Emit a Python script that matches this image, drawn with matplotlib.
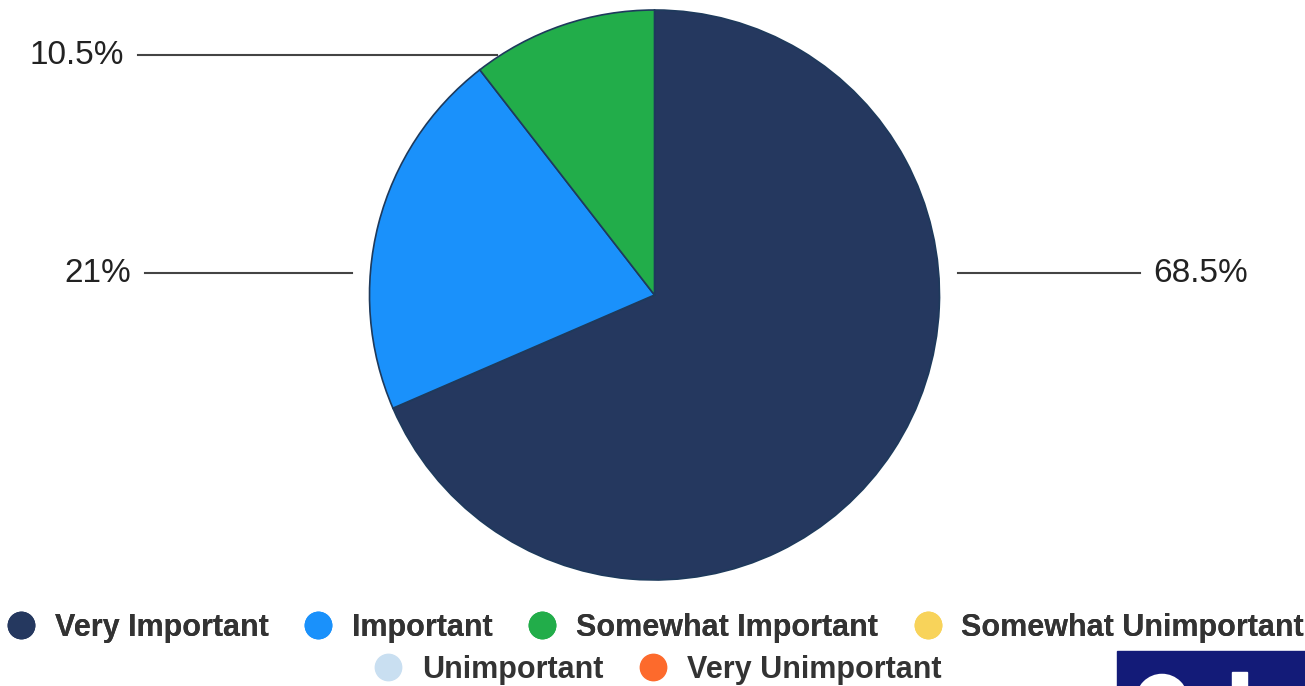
import matplotlib
matplotlib.use('Agg')
import matplotlib.pyplot as plt
from matplotlib.lines import Line2D
from matplotlib.patches import Rectangle, Circle

# datos del gráfico
categorias = ['Very Important', 'Important', 'Somewhat Important',
              'Somewhat Unimportant', 'Unimportant', 'Very Unimportant']
valores = [68.5, 21, 10.5, 0, 0, 0]
cores = ['#25385f', '#1a91fb', '#22ad4a', '#f8d35a', '#c9dff1', '#fd6a2c']

W, H = 1305, 686
plt.rcParams['font.family'] = ['Liberation Sans', 'DejaVu Sans']

fig = plt.figure(figsize=(W / 100, H / 100), dpi=100)
ax = fig.add_axes([0, 0, 1, 1])


def py(y):
    # pixel (top-down) -> data (bottom-up)
    return H - y


# pizza: só as fatias com valor
idx = [i for i, v in enumerate(valores) if v > 0]
ax.pie([valores[i] for i in idx], colors=[cores[i] for i in idx],
       startangle=90, counterclock=False,
       center=(654.5, py(295)), radius=285,
       wedgeprops=dict(edgecolor='#1e3a5c', linewidth=1.2))
ax.set_xlim(0, W)
ax.set_ylim(0, H)
ax.set_aspect('equal')
ax.axis('off')

# rótulos com linha guia (posições de layout)
guias = [  # (x_linha_ini, x_linha_fim, y, lado)
    (958, 1140, 273, 'right'),
    (352, 145, 273, 'left'),
    (497, 138, 55, 'left'),
]
for i, (x0, x1, y, lado) in zip(idx, guias):
    ax.plot([x0, x1], [py(y), py(y)], color='#444444', lw=1.5)
    txt = f'{valores[i]:g}%'
    if lado == 'right':
        ax.text(x1 + 13, py(y), txt, ha='left', va='center',
                fontsize=24, color='#222222')
    else:
        ax.text(x1 - 14, py(y), txt, ha='right', va='center',
                fontsize=24, color='#222222')

# legenda em duas linhas (estilo google charts)
handles = [Line2D([], [], marker='o', ls='', markersize=19,
                  markerfacecolor=c, markeredgecolor=c) for c in cores]
kw = dict(frameon=False, loc='center', handlelength=0.85,
          handletextpad=0.68, columnspacing=1.2, borderpad=0,
          prop=dict(weight='bold', size=22), labelcolor='#333333')
leg1 = fig.legend(handles[:4], categorias[:4], ncol=4,
                  bbox_to_anchor=(656 / W, 1 - 628 / H), **kw)
fig.add_artist(leg1)
fig.legend(handles[4:], categorias[4:], ncol=2,
           bbox_to_anchor=(658 / W, 1 - 670 / H), **kw)

# logo cortado no canto
ax.add_patch(Rectangle((1117, 0), W - 1117, py(651), color='#131b78',
                       zorder=5))
ax.add_patch(Circle((1162, py(700)), 20, facecolor='#131b78',
                    edgecolor='white', lw=9, zorder=6))
ax.add_patch(Rectangle((1232, 0), 15, py(672), color='white', zorder=6))

fig.savefig('out.png', dpi=100)
